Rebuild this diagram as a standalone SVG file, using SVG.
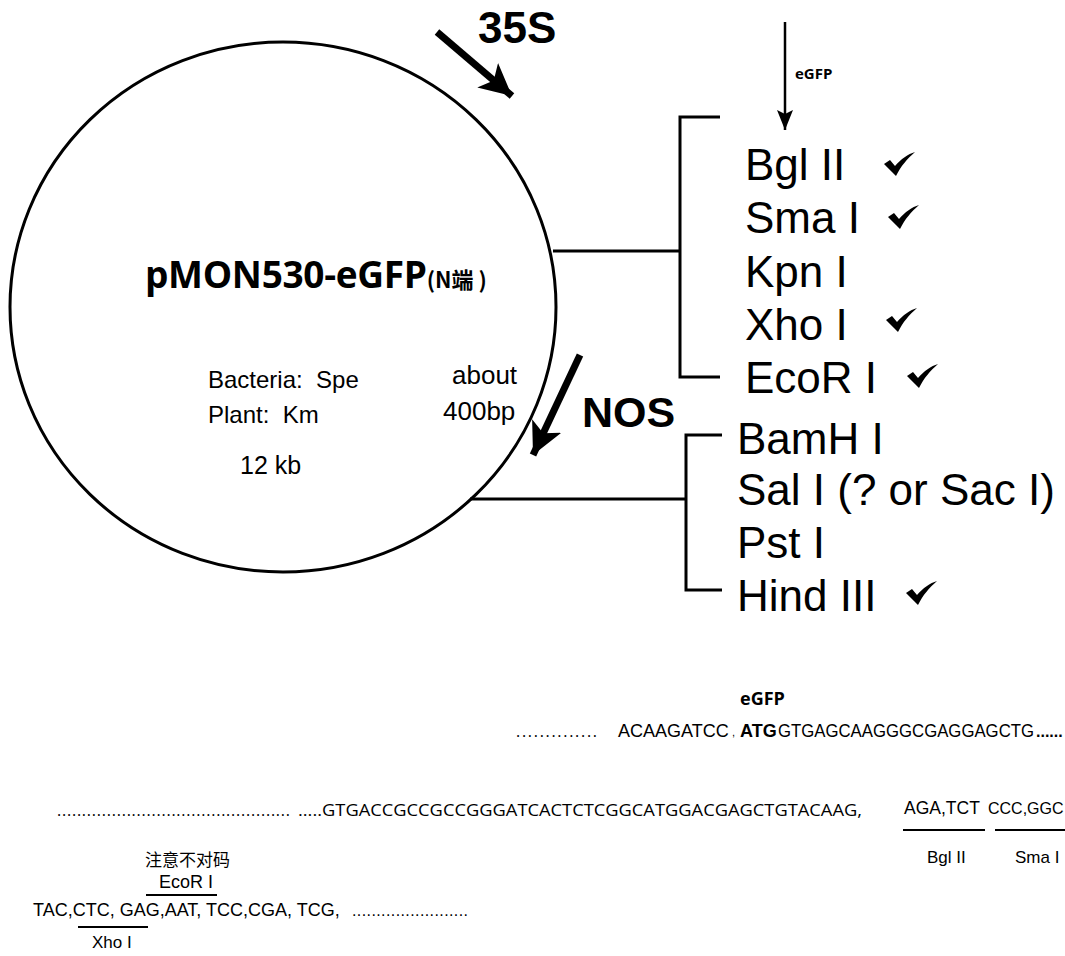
<svg xmlns="http://www.w3.org/2000/svg" width="1065" height="956" viewBox="0 0 1065 956">
<style>
.ln{stroke:#000;fill:none}
.big{font-family:"Liberation Sans",Arial,sans-serif;font-size:44px;fill:#000}
.bold{font-family:"Liberation Sans",Arial,sans-serif;font-weight:bold;fill:#000}
.mid{font-family:"Liberation Sans",Arial,sans-serif;font-size:24px;fill:#000;white-space:pre}
.seq{font-family:"Open Sans","Liberation Sans",sans-serif;font-size:16px;fill:#000}
.sm{font-family:"Liberation Sans",Arial,sans-serif;font-size:18px;fill:#000}
</style>
<defs>
<marker id="ah" markerWidth="34" markerHeight="32" refX="32" refY="16" orient="auto" markerUnits="userSpaceOnUse"><path d="M0,0 L32,16 L0,32 L8,16 Z" fill="#000"/></marker>
<marker id="ahs" markerWidth="22" markerHeight="16" refX="20" refY="8" orient="auto" markerUnits="userSpaceOnUse"><path d="M0,0 L20,8 L0,16 L4,8 Z" fill="#000"/></marker>
<path id="chk" d="M0,10 L6,6 L11,12 C17,5 24,0 31,-2 C23,5 17,12 12,22 Z" fill="#000"/>
</defs>
<rect width="1065" height="956" fill="#fff"/>
<g id="plasmid">
<ellipse cx="283" cy="307" rx="273" ry="265" fill="none" stroke="#000" stroke-width="3"/>
<text x="145" y="288" font-family="'Open Sans','Noto Sans',sans-serif" font-weight="bold" font-size="37" letter-spacing="-0.3" fill="#000">pMON530-eGFP<tspan font-size="22" letter-spacing="0" font-family="'Noto Sans CJK SC','Open Sans',sans-serif">(N端 )</tspan></text>
<text class="mid" x="208" y="388">Bacteria:  Spe</text>
<text class="mid" x="208" y="423">Plant:  Km</text>
<text class="mid" x="240" y="474" style="font-size:25px">12 kb</text>
<text class="mid" x="452" y="384" style="font-size:26px">about</text>
<text class="mid" x="443" y="420" style="font-size:26px">400bp</text>
</g>
<g id="connectors">
<line class="ln" x1="437" y1="32" x2="512" y2="96" style="stroke-width:7" marker-end="url(#ah)"/>
<line class="ln" x1="580" y1="355" x2="533" y2="455" style="stroke-width:7" marker-end="url(#ah)"/>
<line class="ln" x1="785" y1="22" x2="785" y2="130" style="stroke-width:2.5" marker-end="url(#ahs)"/>
<polyline class="ln" points="553,251 680,251" style="stroke-width:3"/>
<polyline class="ln" points="720,117 680,117 680,377 720,377" style="stroke-width:3"/>
<polyline class="ln" points="470,499 686,499" style="stroke-width:3"/>
<polyline class="ln" points="722,435 686,435 686,590 722,590" style="stroke-width:3"/>
</g>
<g id="labels">
<text class="bold" x="478" y="43" font-size="44">35S</text>
<text class="bold" x="582" y="427" font-size="43">NOS</text>
<text x="795" y="79" font-family="'Open Sans','Noto Sans',sans-serif" font-weight="bold" font-size="15" fill="#000">eGFP</text>
</g>
<g id="sites-upper">
<text class="big" x="745" y="180">Bgl II</text>
<text class="big" x="745" y="233">Sma I</text>
<text class="big" x="745" y="287">Kpn I</text>
<text class="big" x="745" y="340">Xho I</text>
<text class="big" x="745" y="393">EcoR I</text>
<use href="#chk" x="884" y="154"/>
<use href="#chk" x="888" y="207"/>
<use href="#chk" x="886" y="310"/>
<use href="#chk" x="907" y="366"/>
</g>
<g id="sites-lower">
<text class="big" x="737" y="454">BamH I</text>
<text class="big" x="737" y="505">Sal I (? or Sac I)</text>
<text class="big" x="737" y="558">Pst I</text>
<text class="big" x="737" y="611">Hind III</text>
<use href="#chk" x="906" y="583"/>
</g>
<g id="sequence">
<text x="740" y="705" font-family="'Open Sans','Noto Sans',sans-serif" font-weight="bold" font-size="18" fill="#000">eGFP</text>
<text class="seq" x="516" y="737" textLength="81" lengthAdjust="spacing">..............</text>
<text class="sm" x="618" y="737">ACAAGATCC</text>
<text class="sm" x="732" y="736" style="font-size:11px">,</text>
<text class="sm" x="740" y="737" font-weight="bold">ATG</text>
<text class="sm" x="778" y="737" textLength="256" lengthAdjust="spacingAndGlyphs">GTGAGCAAGGGCGAGGAGCTG</text>
<text class="sm" x="1036" y="737" font-weight="bold" style="font-size:16px">......</text>
<text class="seq" x="57" y="816" textLength="233" lengthAdjust="spacing">...............................................</text>
<text class="seq" x="298" y="816" textLength="564" lengthAdjust="spacingAndGlyphs">.....GTGACCGCCGCCGGGATCACTCTCGGCATGGACGAGCTGTACAAG,</text>
<text class="sm" x="904" y="814" style="font-size:17.5px">AGA,TCT</text>
<text class="sm" x="988" y="814" style="font-size:16px">CCC,GGC</text>
<line class="ln" x1="903" y1="830" x2="985" y2="830" style="stroke-width:2"/>
<line class="ln" x1="995" y1="830" x2="1065" y2="830" style="stroke-width:2"/>
<text class="sm" x="927" y="863" style="font-size:17px">Bgl II</text>
<text class="sm" x="1015" y="863" style="font-size:17px">Sma I</text>
<text x="145" y="866" font-family="'Noto Sans CJK SC',sans-serif" font-size="17" fill="#000">注意不对码</text>
<text class="sm" x="159" y="888">EcoR I</text>
<line class="ln" x1="146" y1="895" x2="217" y2="895" style="stroke-width:2"/>
<text class="sm" x="33" y="916">TAC,CTC, GAG,AAT, TCC,CGA, TCG,</text>
<text class="sm" x="352" y="916" style="font-size:16px" textLength="116" lengthAdjust="spacing">........................</text>
<line class="ln" x1="78" y1="927" x2="148" y2="927" style="stroke-width:2"/>
<text class="sm" x="92" y="948" style="font-size:17px">Xho I</text>
</g>
</svg>
